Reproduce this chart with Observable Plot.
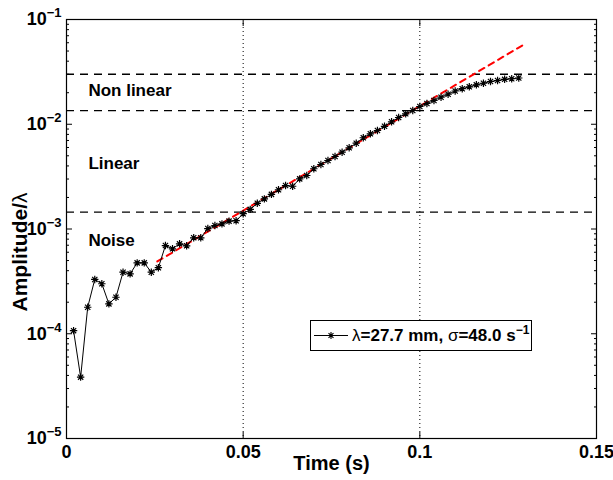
<!DOCTYPE html>
<html><head><meta charset="utf-8">
<script src="https://cdn.jsdelivr.net/npm/d3@7"></script>
<script src="https://cdn.jsdelivr.net/npm/@observablehq/plot@0.6"></script>
<style>
body{margin:0;background:#fff;}
#chart{width:613px;height:480px;}
</style></head><body><div id="chart"></div>
<script>
// ---- data ----
const time = [0.002,0.004,0.006,0.008,0.010,0.012,0.014,0.016,0.018,0.020,
  0.022,0.024,0.026,0.028,0.030,0.032,0.034,0.036,0.038,0.040,
  0.042,0.044,0.046,0.048,0.050,0.052,0.054,0.056,0.058,0.060,
  0.062,0.064,0.066,0.068,0.070,0.072,0.074,0.076,0.078,0.080,
  0.082,0.084,0.086,0.088,0.090,0.092,0.094,0.096,0.098,0.100,
  0.102,0.104,0.106,0.108,0.110,0.112,0.114,0.116,0.118,0.120,
  0.122,0.124,0.126,0.128];
const amplitude = [1.07e-4,3.85e-5,1.79e-4,3.30e-4,3.00e-4,1.93e-4,2.23e-4,3.87e-4,3.73e-4,4.75e-4,
  4.75e-4,3.87e-4,4.27e-4,6.95e-4,6.47e-4,7.22e-4,6.91e-4,8.24e-4,8.24e-4,1.01e-3,
  1.08e-3,1.12e-3,1.19e-3,1.20e-3,1.40e-3,1.54e-3,1.76e-3,1.94e-3,2.14e-3,2.37e-3,
  2.60e-3,2.56e-3,3.01e-3,3.24e-3,3.76e-3,4.13e-3,4.51e-3,4.92e-3,5.41e-3,5.96e-3,
  6.59e-3,7.43e-3,8.11e-3,8.72e-3,9.56e-3,1.055e-2,1.16e-2,1.258e-2,1.353e-2,1.477e-2,
  1.578e-2,1.685e-2,1.812e-2,1.935e-2,2.076e-2,2.184e-2,2.277e-2,2.379e-2,2.464e-2,2.558e-2,
  2.615e-2,2.685e-2,2.720e-2,2.763e-2];
const fitTime = [0.0257, 0.1293];
const fitAmplitude = [4.9e-4, 5.73e-2];
const thresholds = [0.030, 0.0135, 0.00145];
const gridTimes = [0.05, 0.1];
const regionLabels = ["Non linear", "Linear", "Noise"];
const regionLabelTime = [0.0062, 0.0062, 0.0062];
const regionLabelAmp = [0.021, 0.00422, 7.76e-4];
const xTicks = [0, 0.05, 0.1, 0.15];
const xTickLabels = ["0", "0.05", "0.1", "0.15"];
const yTicks = [1e-5, 1e-4, 1e-3, 1e-2, 1e-1];
const yTickExponents = ["\u22125", "\u22124", "\u22123", "\u22122", "\u22121"];
const xLabel = "Time (s)";
const yLabel = ["Amplitude/", "\u03bb"];
const legendParts = [["\u03bb", false], ["=27.7 mm, ", true], ["\u03c3", false], ["=48.0 s", true]];
const legendSup = "\u22121";

// ---- build ----
const data = time.map((t, i) => ({t, a: amplitude[i]}));
const fit = fitTime.map((t, i) => ({t, a: fitAmplitude[i]}));
const minorTicks = [];
for (let e = -5; e < -1; e++) for (let m = 2; m <= 9; m++) minorTicks.push(m * Math.pow(10, e));

const star = {draw(ctx, size) {
  const r = Math.sqrt(size / Math.PI), d = r * 0.7071;
  ctx.moveTo(-r, 0); ctx.lineTo(r, 0); ctx.moveTo(0, -r); ctx.lineTo(0, r);
  ctx.moveTo(-d, -d); ctx.lineTo(d, d); ctx.moveTo(-d, d); ctx.lineTo(d, -d);
}};
const FONT = "'Liberation Sans', Arial, Helvetica, sans-serif";
const empty = () => "";

const plot = Plot.plot({
  width: 613, height: 480,
  marginLeft: 66, marginRight: 17, marginTop: 19, marginBottom: 42,
  style: {fontFamily: FONT, fontSize: "17px", fontWeight: "bold", background: "white", color: "black"},
  x: {domain: [0, 0.15]},
  y: {type: "log", domain: [1e-5, 1e-1]},
  marks: [
    Plot.ruleX(gridTimes, {stroke: "black", strokeWidth: 1, strokeDasharray: "1,3"}),
    Plot.ruleY(thresholds, {stroke: "black", strokeWidth: 1.4, strokeDasharray: "8,6"}),
    Plot.line(fit, {x: "t", y: "a", stroke: "#ff0000", strokeWidth: 2, strokeDasharray: "6,5"}),
    Plot.line(data, {x: "t", y: "a", stroke: "black", strokeWidth: 1}),
    Plot.dot(data, {x: "t", y: "a", symbol: star, r: 3.7, fill: "none", stroke: "black", strokeWidth: 1.2}),
    Plot.text(regionLabels, {x: regionLabelTime, y: regionLabelAmp, text: regionLabels, textAnchor: "start", fontSize: 17, fontWeight: "bold"}),
    Plot.frame({stroke: "black", strokeWidth: 1.2}),
    Plot.axisX(xTicks, {anchor: "bottom", tickSize: -6, tickFormat: empty, label: null}),
    Plot.axisX(xTicks, {anchor: "top", tickSize: -6, tickFormat: empty, label: null}),
    Plot.axisX(xTicks, {anchor: "bottom", tickSize: 0, tickPadding: 7, tickFormat: (d, i) => xTickLabels[i], label: null, fontSize: 18}),
    Plot.axisY(yTicks, {anchor: "left", tickSize: -6, tickFormat: empty, label: null}),
    Plot.axisY(yTicks, {anchor: "right", tickSize: -6, tickFormat: empty, label: null}),
    Plot.axisY(minorTicks, {anchor: "left", tickSize: -3, tickFormat: empty, label: null}),
    Plot.axisY(minorTicks, {anchor: "right", tickSize: -3, tickFormat: empty, label: null}),
    Plot.axisY(yTicks, {anchor: "left", tickSize: 0, tickPadding: 14, tickFormat: () => "10", label: null, fontSize: 18}),
    Plot.text([xLabel], {frameAnchor: "bottom", dy: 31, fontSize: 20, fontWeight: "bold"})
  ]
});
document.getElementById("chart").appendChild(plot);

const svg = d3.select(plot);
// superscript exponents on the labelled y axis only
svg.selectAll('g[aria-label="y-axis tick label"]').each(function() {
  const texts = d3.select(this).selectAll("text");
  if (texts.empty() || texts.nodes()[0].textContent !== "10") return;
  d3.select(this).attr("transform", (this.getAttribute("transform") || "") + " translate(9,0)");
  texts.each(function(d, i) {
    const t = d3.select(this);
    t.text(null);
    t.append("tspan").text("10");
    t.append("tspan").attr("dy", "-0.6em").attr("font-size", "13px").text(yTickExponents[i]);
  });
});

// y axis label
const yl = svg.append("text")
  .attr("transform", "translate(20,252) rotate(-90)")
  .attr("text-anchor", "middle").attr("dy", "0.35em")
  .attr("font-family", FONT).attr("font-size", 21).attr("fill", "black");
yl.append("tspan").attr("font-weight", "bold").text(yLabel[0]);
yl.append("tspan").attr("font-weight", "normal").text(yLabel[1]);

// legend
const lg = svg.append("g");
lg.append("rect").attr("x", 310.5).attr("y", 320.5).attr("width", 221).attr("height", 30)
  .attr("fill", "white").attr("stroke", "black").attr("stroke-width", 1);
lg.append("line").attr("x1", 314).attr("x2", 348).attr("y1", 335.5).attr("y2", 335.5)
  .attr("stroke", "black").attr("stroke-width", 1);
lg.append("path").attr("transform", "translate(331,335.5)")
  .attr("d", d3.symbol(star, Math.PI * 3.5 * 3.5)()).attr("fill", "none").attr("stroke", "black").attr("stroke-width", 1.1);
const lt = lg.append("text").attr("x", 352).attr("y", 335.5).attr("dy", "0.35em")
  .attr("text-anchor", "start")
  .attr("font-family", FONT).attr("font-size", 17).attr("fill", "black");
legendParts.forEach(([s, b]) => lt.append("tspan").attr("font-weight", b ? "bold" : "normal").text(s));
lt.append("tspan").attr("font-weight", "bold").attr("dy", "-0.6em").attr("font-size", "12px").text(legendSup);
</script></body></html>
